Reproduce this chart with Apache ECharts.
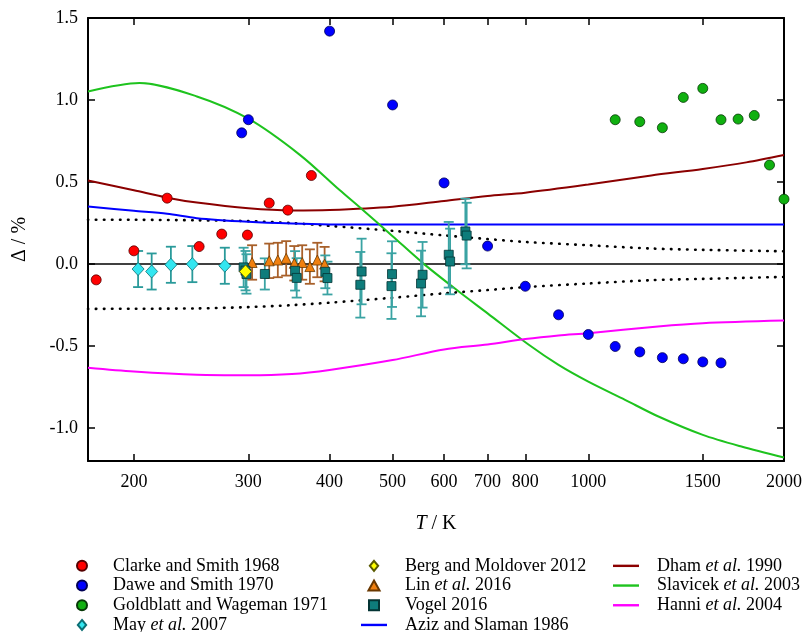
<!DOCTYPE html>
<html>
<head>
<meta charset="utf-8">
<script src="https://cdn.jsdelivr.net/npm/echarts@6/dist/echarts.min.js"></script>
<style>
  html, body { margin: 0; padding: 0; background: #fff; }
  #chart { width: 805px; height: 632px; }
</style>
</head>
<body>
<div id="chart"></div>
<script>
// tick labels
const xTicks = [200, 300, 400, 500, 600, 700, 800, 1000, 1500, 2000]
const yTicks = [-1.0, -0.5, 0.0, 0.5, 1.0, 1.5]

// experimental points (T / K, Δ / %)
const clarkeT = [175, 200, 225, 252, 273, 299, 323, 345, 375]
const clarkeD = [-0.096, 0.081, 0.402, 0.107, 0.183, 0.177, 0.372, 0.329, 0.54]

const daweT = [293, 300, 400, 500, 600, 700, 800, 900, 1000, 1100, 1200, 1300, 1400, 1500, 1600]
const daweD = [0.80, 0.88, 1.42, 0.97, 0.495, 0.11, -0.135, -0.309, -0.429, -0.502, -0.535, -0.57, -0.577, -0.596, -0.602]

const goldT = [1100, 1200, 1300, 1400, 1500, 1600, 1700, 1800, 1900, 2000]
const goldD = [0.88, 0.868, 0.831, 1.016, 1.071, 0.88, 0.884, 0.906, 0.604, 0.396]

const mayT = [203, 213, 228, 246, 276]
const mayD = [-0.03, -0.045, -0.004, 0.0, -0.01]
const mayErr = [0.11, 0.11, 0.11, 0.11, 0.11]

const bergT = [297]
const bergD = [-0.045]

const linT = [304, 323, 333, 343, 353, 363, 373, 383, 393]
const linD = [0.01, 0.02, 0.025, 0.035, 0.005, 0.01, -0.015, 0.025, 0.0]
const linErr = [0.105, 0.105, 0.105, 0.105, 0.105, 0.105, 0.105, 0.105, 0.105]

const vogelT = [295, 297, 298, 318, 354, 356, 394, 397, 446, 448, 498, 499, 553, 556, 610, 613, 647, 650]
const vogelD = [-0.02, -0.04, -0.06, -0.06, -0.041, -0.084, -0.047, -0.085, -0.126, -0.045, -0.134, -0.061, -0.118, -0.065, 0.057, 0.016, 0.199, 0.174]
const vogelErr = [0.12, 0.12, 0.12, 0.095, 0.12, 0.12, 0.1, 0.1, 0.2, 0.2, 0.2, 0.2, 0.2, 0.2, 0.2, 0.2, 0.2, 0.2]

// correlations / models
const azizT = [170, 200, 225, 250, 300, 350, 400, 500, 700, 1000, 2000]
const azizD = [0.351, 0.325, 0.307, 0.28, 0.258, 0.247, 0.242, 0.241, 0.241, 0.241, 0.241]

const dhamT = [170, 200, 225, 250, 300, 350, 400, 500, 600, 700, 800, 1000, 1250, 1500, 1750, 2000]
const dhamD = [0.51, 0.45, 0.405, 0.375, 0.34, 0.327, 0.33, 0.35, 0.385, 0.415, 0.435, 0.485, 0.54, 0.58, 0.62, 0.665]

const slavT = [170, 204, 250, 300, 360, 414, 450, 500, 559, 632, 700, 809, 900, 1000, 1139, 1282, 1500, 1720, 2000]
const slavD = [1.052, 1.104, 1.022, 0.886, 0.666, 0.453, 0.33, 0.17, 0.0, -0.167, -0.30, -0.49, -0.614, -0.716, -0.827, -0.929, -1.041, -1.112, -1.179]

const hanniT = [170, 200, 250, 300, 350, 400, 500, 600, 700, 800, 900, 1000, 1280, 1500, 2000]
const hanniD = [-0.632, -0.655, -0.675, -0.678, -0.67, -0.645, -0.585, -0.52, -0.49, -0.457, -0.435, -0.421, -0.38, -0.36, -0.344]

// uncertainty band (dotted) and zero line
const bandT = [170, 200, 250, 300, 350, 400, 500, 600, 700, 800, 1000, 1250, 1500, 2000]
const bandHi = [0.27, 0.27, 0.267, 0.262, 0.25, 0.233, 0.203, 0.175, 0.153, 0.135, 0.115, 0.095, 0.087, 0.078]
const bandLo = [-0.273, -0.272, -0.27, -0.262, -0.25, -0.235, -0.205, -0.178, -0.158, -0.14, -0.118, -0.098, -0.09, -0.078]
const zeroT = [170, 2000]
const zeroD = [0, 0]

const FONT = 'Liberation Serif'
const pts = (T, D) => T.map((t, i) => [t, D[i]])

// legend icons
const ICON_LINE = 'path://M0,0 L26,0 L26,2.4 L0,2.4 Z'
const ICON_CIRCLE = 'circle'
const ICON_DIAMOND = 'path://M5,0 L10,6 L5,12 L0,6 Z'
const ICON_TRIANGLE = 'path://M5,0 L10,9 L0,9 Z'
const ICON_SQUARE = 'path://M0,0 L9,0 L9,9 L0,9 Z'

function scatter(name, T, D, symbol, size, fill, border) {
  return {
    name, type: 'scatter', symbol, symbolSize: size, z: 5,
    itemStyle: { color: fill, borderColor: border, borderWidth: 0.8, opacity: 1 },
    data: pts(T, D),
  }
}

function line(name, T, D, color, extra) {
  return Object.assign({
    name, type: 'line', symbol: 'none', smooth: 0.3, z: 2,
    lineStyle: { color, width: 2 },
    itemStyle: { color },
    data: pts(T, D),
  }, extra || {})
}

function errorBars(T, D, E, color, cap) {
  return {
    type: 'custom', z: 3, silent: true,
    encode: { x: 0, y: 1 },
    data: T.map((t, i) => [t, D[i], E[i]]),
    renderItem(params, api) {
      const x = api.value(0), y = api.value(1), e = api.value(2)
      const hi = api.coord([x, y + e])
      const lo = api.coord([x, y - e])
      const st = { stroke: color, lineWidth: 1.8 }
      return {
        type: 'group',
        children: [
          { type: 'line', shape: { x1: hi[0], y1: hi[1], x2: lo[0], y2: lo[1] }, style: st },
          { type: 'line', shape: { x1: hi[0] - cap, y1: hi[1], x2: hi[0] + cap, y2: hi[1] }, style: st },
          { type: 'line', shape: { x1: lo[0] - cap, y1: lo[1], x2: lo[0] + cap, y2: lo[1] }, style: st },
        ],
      }
    },
  }
}

const legendBase = {
  orient: 'vertical', itemWidth: 26, itemHeight: 10, itemGap: 0, padding: 0, height: 90,
  formatter: n => n.replace('et al.', '{i|et al.}'),
  textStyle: {
    fontFamily: FONT, fontSize: 18, color: '#000', lineHeight: 19.7, padding: [0, 0, 0, 13],
    rich: { i: { fontFamily: FONT, fontSize: 18, fontStyle: 'italic', lineHeight: 19.7 } },
  },
}

const dotted = { color: '#000', width: 2.6, type: [0.5, 7.5], cap: 'round' }

const chart = echarts.init(document.getElementById('chart'), null, { renderer: 'canvas' })
chart.setOption({
  animation: false,
  backgroundColor: '#fff',
  grid: { left: 88, right: 19, top: 18, bottom: 171 },
  legend: [
    Object.assign({}, legendBase, { left: 76, top: 556,
      data: [
        { name: 'Clarke and Smith 1968', icon: ICON_CIRCLE },
        { name: 'Dawe and Smith 1970', icon: ICON_CIRCLE },
        { name: 'Goldblatt and Wageman 1971', icon: ICON_CIRCLE },
        { name: 'May et al. 2007', icon: ICON_DIAMOND },
      ] }),
    Object.assign({}, legendBase, { left: 361, top: 556,
      data: [
        { name: 'Berg and Moldover 2012', icon: ICON_DIAMOND },
        { name: 'Lin et al. 2016', icon: ICON_TRIANGLE },
        { name: 'Vogel 2016', icon: ICON_SQUARE },
        { name: 'Aziz and Slaman 1986', icon: ICON_LINE },
      ] }),
    Object.assign({}, legendBase, { left: 613, top: 556,
      data: [
        { name: 'Dham et al. 1990', icon: ICON_LINE },
        { name: 'Slavicek et al. 2003', icon: ICON_LINE },
        { name: 'Hanni et al. 2004', icon: ICON_LINE },
      ] }),
  ],
  xAxis: [
    {
      type: 'log', logBase: 10, min: 170, max: 2000, position: 'bottom',
      name: '{i|T} / K', nameLocation: 'middle', nameGap: 53,
      nameTextStyle: {
        fontFamily: FONT, fontSize: 20, color: '#000',
        rich: { i: { fontFamily: FONT, fontSize: 20, fontStyle: 'italic' } },
      },
      axisLine: { onZero: false, lineStyle: { color: '#000', width: 2 } },
      axisTick: { inside: true, length: 7, lineStyle: { color: '#000', width: 1.5 }, customValues: xTicks },
      axisLabel: {
        customValues: xTicks, fontFamily: FONT, fontSize: 18, color: '#000', margin: 12,
        formatter: v => String(Math.round(v)),
      },
      splitLine: { show: false },
      minorTick: { show: false },
    },
    {
      type: 'log', logBase: 10, min: 170, max: 2000, position: 'top',
      axisLine: { onZero: false, lineStyle: { color: '#000', width: 2 } },
      axisTick: { inside: true, length: 7, lineStyle: { color: '#000', width: 1.5 }, customValues: xTicks },
      axisLabel: { show: false, customValues: xTicks },
      splitLine: { show: false },
    },
  ],
  yAxis: [
    {
      type: 'value', min: -1.2, max: 1.5, position: 'left',
      name: 'Δ / %', nameLocation: 'middle', nameGap: 58,
      nameTextStyle: { fontFamily: FONT, fontSize: 20, color: '#000' },
      axisLine: { onZero: false, lineStyle: { color: '#000', width: 2 } },
      axisTick: { inside: true, length: 7, lineStyle: { color: '#000', width: 1.5 }, customValues: yTicks },
      axisLabel: {
        customValues: yTicks, fontFamily: FONT, fontSize: 18, color: '#000', margin: 10,
        formatter: v => v.toFixed(1),
      },
      splitLine: { show: false },
    },
    {
      type: 'value', min: -1.2, max: 1.5, position: 'right',
      axisLine: { onZero: false, lineStyle: { color: '#000', width: 2 } },
      axisTick: { inside: true, length: 7, lineStyle: { color: '#000', width: 1.5 }, customValues: yTicks },
      axisLabel: { show: false, customValues: yTicks },
      splitLine: { show: false },
    },
  ],
  series: [
    line('zero', zeroT, zeroD, '#000', { smooth: false, z: 1, lineStyle: { color: '#000', width: 1.5 } }),
    line('bandHi', bandT, bandHi, '#000', { z: 1, lineStyle: dotted }),
    line('bandLo', bandT, bandLo, '#000', { z: 1, lineStyle: dotted }),
    line('Aziz and Slaman 1986', azizT, azizD, '#0000ff'),
    line('Dham et al. 1990', dhamT, dhamD, '#8b0000'),
    line('Slavicek et al. 2003', slavT, slavD, '#1ec31e'),
    line('Hanni et al. 2004', hanniT, hanniD, '#ff00ff'),

    errorBars(mayT, mayD, mayErr, '#2a9a9a', 5),
    errorBars(linT, linD, linErr, '#a8602a', 5),
    errorBars(vogelT, vogelD, vogelErr, '#3aa3a3', 5),

    scatter('Clarke and Smith 1968', clarkeT, clarkeD, 'circle', 10, '#ff0000', '#550000'),
    scatter('Dawe and Smith 1970', daweT, daweD, 'circle', 10, '#0000ff', '#000055'),
    scatter('Goldblatt and Wageman 1971', goldT, goldD, 'circle', 10, '#10b010', '#063806'),
    scatter('May et al. 2007', mayT, mayD, 'diamond', [12, 13], '#33e6f0', '#0c6e74'),
    scatter('Lin et al. 2016', linT, linD, 'triangle', 10, '#f08010', '#6a3800'),
    scatter('Vogel 2016', vogelT, vogelD, 'rect', 9, '#0e7c7b', '#043434'),
    scatter('Berg and Moldover 2012', bergT, bergD, 'diamond', [12, 13], '#ffff00', '#5a5a00'),
  ],
})
</script>
</body>
</html>
